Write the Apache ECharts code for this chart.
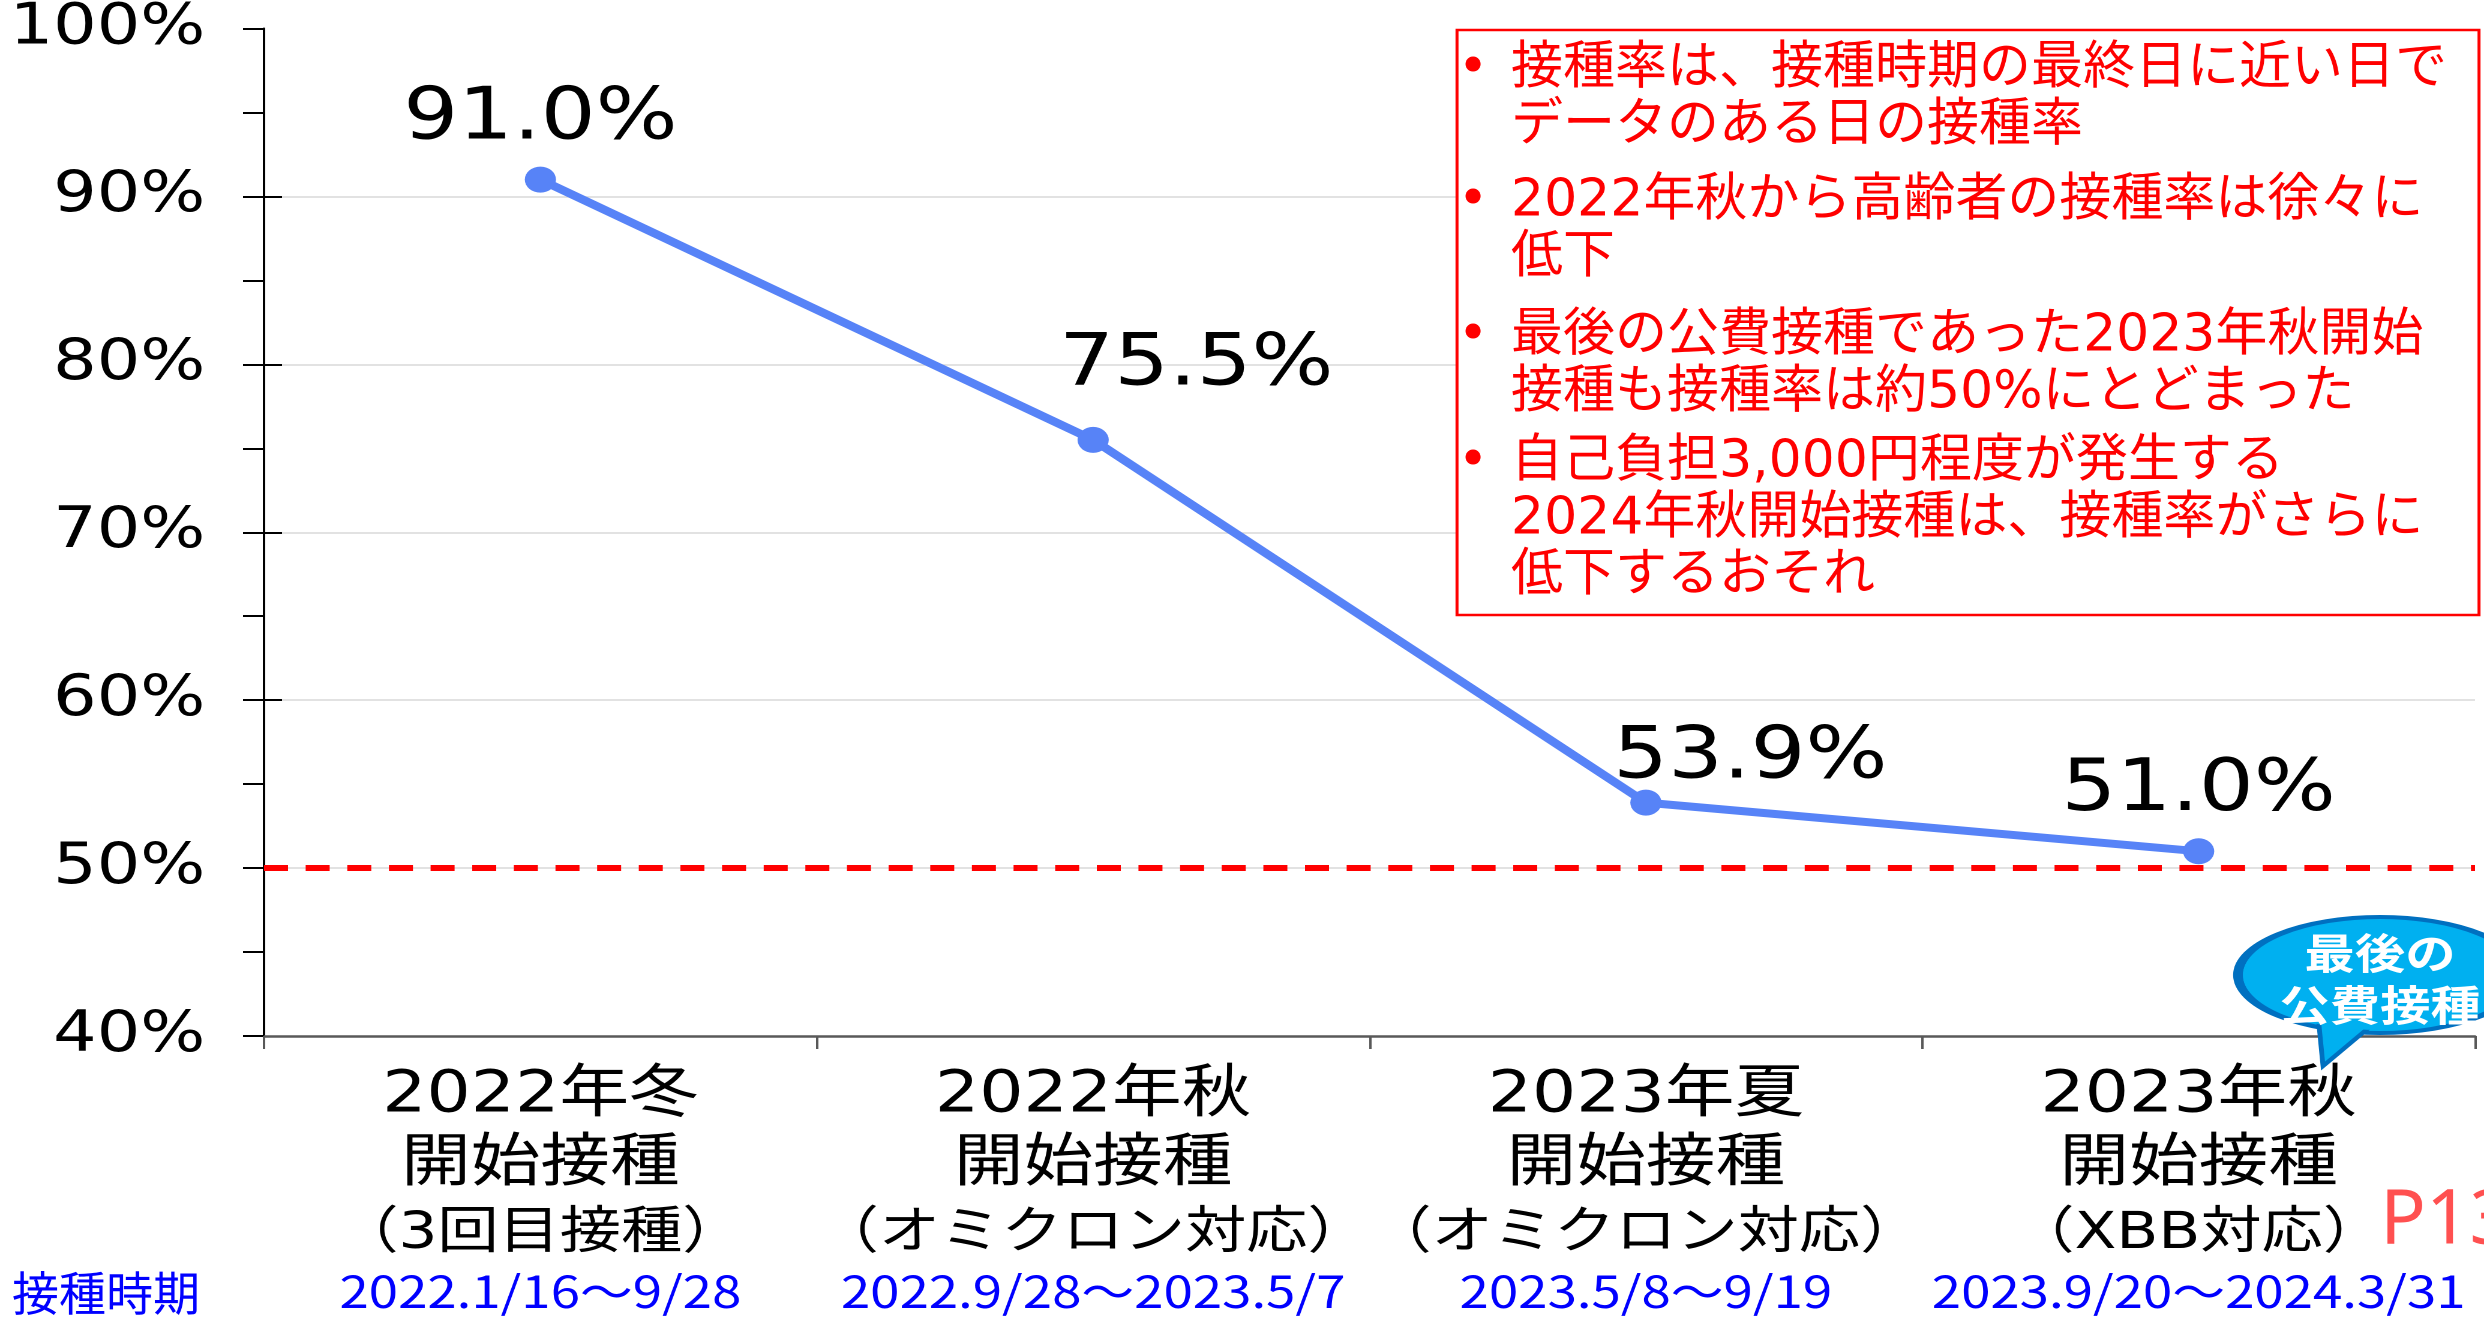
<!DOCTYPE html>
<html><head><meta charset="utf-8">
<script src="https://cdn.jsdelivr.net/npm/echarts@6/dist/echarts.min.js"></script>
<style>
html,body{margin:0;padding:0;background:#fff;overflow:hidden;width:2484px;height:1318px;}
#chart{position:absolute;left:0;top:0;width:2070px;height:1318px;transform:scaleX(1.2);transform-origin:0 0;}
</style></head><body><div id="chart"></div>
<script>
// ---------------- data ----------------
const categories = [
  '2022年冬\n開始接種\n（3回目接種）',
  '2022年秋\n開始接種\n（オミクロン対応）',
  '2023年夏\n開始接種\n（オミクロン対応）',
  '2023年秋\n開始接種\n（XBB対応）'
];
const periods = ['2022.1/16～9/28', '2022.9/28～2023.5/7', '2023.5/8～9/19', '2023.9/20～2024.3/31'];
const rates = [91.0, 75.5, 53.9, 51.0];
const yTicks = [40, 50, 60, 70, 80, 90, 100];
const threshold = 50;
const periodTitle = '接種時期';
const notes = [
  ['接種率は、接種時期の最終日に近い日で', 'データのある日の接種率'],
  ['2022年秋から高齢者の接種率は徐々に', '低下'],
  ['最後の公費接種であった2023年秋開始', '接種も接種率は約50%にとどまった'],
  ['自己負担3,000円程度が発生する', '2024年秋開始接種は、接種率がさらに', '低下するおそれ']
];
const bubbleText = ['最後の', '公費接種'];
const pageRef = 'P13';

// ---------------- layout / style ----------------
const SX = 1.2;                 // horizontal stretch of the chart picture
const W = 2484 / SX;
const px = v => v / SX;         // screen x -> canvas x
const LABEL_OFFSETS = [[0, 0], [86, -14], [87, 16], [0, 0]];
const NOTE_CENTERS = [70, 202, 337, 463];
const NOTE_LH = 57;
const LINE_COLOR = '#5783F7';
const LATIN_CJK = "'DejaVu Sans', 'Noto Sans CJK JP'";
const CJK = "'Noto Sans CJK JP'";

const chart = echarts.init(document.getElementById('chart'), null, {devicePixelRatio: 2});

const graphics = [];
// red notes box (not stretched in the original)
graphics.push({
  type: 'rect', x: px(1457), y: 30, z: 100,
  shape: {x: 0, y: 0, width: px(2479) - px(1457), height: 585},
  style: {fill: '#ffffff', stroke: '#FF0000', lineWidth: 2.5}
});
notes.forEach((lines, i) => {
  graphics.push({
    type: 'text', x: px(1473), y: NOTE_CENTERS[i], scaleX: 1 / SX, z: 101,
    style: {text: '•', fontSize: 52, fontFamily: LATIN_CJK, fill: '#FF0000', align: 'center', verticalAlign: 'middle'}
  });
  graphics.push({
    type: 'text', x: px(1511), y: NOTE_CENTERS[i] - NOTE_LH / 2, scaleX: 1 / SX, z: 101,
    style: {text: lines.join('\n'), fontSize: 52, fontFamily: LATIN_CJK, fill: '#FF0000', align: 'left', verticalAlign: 'top', lineHeight: NOTE_LH}
  });
});
// callout bubble
graphics.push({
  type: 'circle', x: px(2380), y: 975, scaleX: (142 / SX) / 58, z: 100,
  shape: {cx: 0, cy: 0, r: 58},
  style: {fill: '#00B0F0', stroke: '#0070C0', lineWidth: 4, strokeNoScale: true}
});
graphics.push({
  type: 'polygon', z: 101,
  shape: {points: [[px(2318), 1015], [px(2323), 1066], [px(2372), 1025]]},
  style: {fill: '#00B0F0', stroke: '#0070C0', lineWidth: 4}
});
graphics.push({
  type: 'circle', x: px(2380), y: 975, scaleX: (137 / SX) / 55, z: 102,
  shape: {cx: 0, cy: 0, r: 55},
  style: {fill: '#00B0F0'}
});
graphics.push({
  type: 'text', x: px(2380), y: 979, z: 103,
  style: {text: bubbleText.join('\n'), fontSize: 42, fontWeight: 'bold', fontFamily: CJK, fill: '#ffffff', align: 'center', verticalAlign: 'middle', lineHeight: 52}
});
// page reference
graphics.push({
  type: 'text', x: px(2380), y: 1222, scaleX: 1 / SX, z: 103,
  style: {text: pageRef, fontSize: 76, fontFamily: "'Noto Sans'", fill: '#FF5050', align: 'left', verticalAlign: 'middle'}
});
// period row title
graphics.push({
  type: 'text', x: px(12), y: 1293, scaleX: 1 / SX, z: 103,
  style: {text: periodTitle, fontSize: 47, fontFamily: CJK, fill: '#0000FF', align: 'left', verticalAlign: 'middle'}
});

const option = {
  backgroundColor: '#ffffff',
  animation: false,
  grid: {left: px(264), right: W - px(2475), top: 28, bottom: 282, containLabel: false},
  xAxis: {
    type: 'category',
    data: categories,
    boundaryGap: true,
    axisLine: {show: true, lineStyle: {color: '#595959', width: 2.5}},
    axisTick: {show: true, length: 13, lineStyle: {color: '#595959', width: 2}},
    axisLabel: {
      interval: 0, margin: 26, align: 'center',
      formatter: (value, idx) => {
        const l = value.split('\n');
        return '{a|' + l[0] + '}\n{a|' + l[1] + '}\n{c|' + l[2] + '}\n{b|' + periods[idx] + '}';
      },
      rich: {
        a: {fontSize: 58, lineHeight: 69, fontFamily: LATIN_CJK, color: '#000', align: 'center'},
        c: {fontSize: 51, lineHeight: 69, fontFamily: LATIN_CJK, color: '#000', align: 'center'},
        b: {fontSize: 44, lineHeight: 45, fontFamily: CJK, color: '#0000FF', align: 'center'}
      }
    }
  },
  yAxis: [{
    type: 'value',
    min: yTicks[0], max: yTicks[yTicks.length - 1], interval: 10,
    axisLine: {show: true, lineStyle: {color: '#000', width: 2}},
    axisTick: {show: true, inside: false, length: 17.5, lineStyle: {color: '#000', width: 2}},
    minorTick: {show: true, splitNumber: 2, length: 17.5, lineStyle: {color: '#000', width: 2}},
    splitLine: {show: true, showMinLine: false, showMaxLine: false, lineStyle: {color: '#D9D9D9', width: 1.5}},
    axisLabel: {formatter: '{value}%', fontSize: 57, fontFamily: "'DejaVu Sans'", color: '#000', margin: 49}
  }, {
    type: 'value', position: 'left',
    min: yTicks[0], max: yTicks[yTicks.length - 1], interval: 10,
    axisLine: {show: false},
    axisLabel: {show: false},
    splitLine: {show: false},
    axisTick: {show: true, inside: true, length: 15, customValues: yTicks.slice(1, -1), lineStyle: {color: '#000', width: 2}}
  }],
  graphic: graphics,
  series: [{
    type: 'line',
    yAxisIndex: 0,
    data: rates.map((v, i) => ({value: v, label: {offset: LABEL_OFFSETS[i]}})),
    symbol: 'circle',
    symbolSize: 26,
    lineStyle: {color: LINE_COLOR, width: 8},
    itemStyle: {color: LINE_COLOR},
    label: {
      show: true, position: 'top', distance: 11,
      fontSize: 72, lineHeight: 72, fontFamily: "'DejaVu Sans'", color: '#000',
      formatter: p => Number(p.value).toFixed(1) + '%'
    },
    markLine: {
      silent: true, symbol: ['none', 'none'],
      label: {show: false},
      lineStyle: {color: '#FF0000', width: 6, type: [20, 14.7]},
      data: [{yAxis: threshold}]
    }
  }]
};
chart.setOption(option);
</script></body></html>
